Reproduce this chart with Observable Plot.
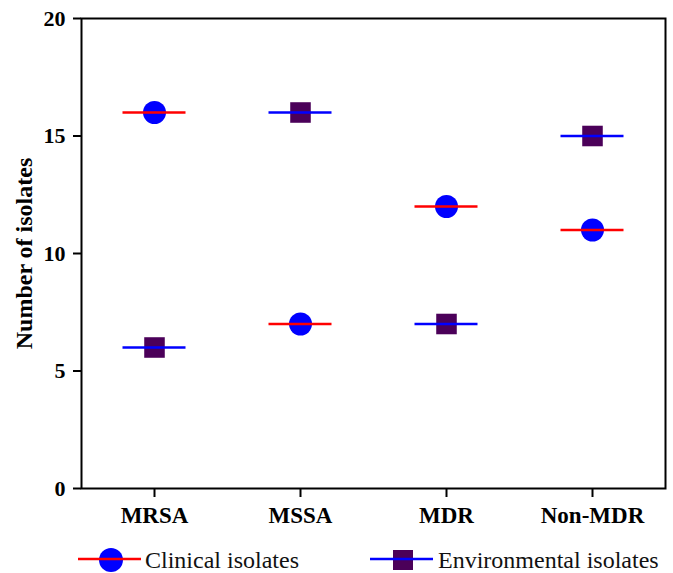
<!DOCTYPE html>
<html><head><meta charset="utf-8">
<script src="https://cdn.jsdelivr.net/npm/d3@7"></script>
<script src="https://cdn.jsdelivr.net/npm/@observablehq/plot@0.6"></script>
<style>
html,body{margin:0;padding:0;background:#fff;overflow:hidden;}
#chart svg{display:block}
#legend{display:block}
</style></head><body>
<div id="chart"></div>
<svg id="legend" width="673" height="37"></svg>
<script>
const categories = ["MRSA", "MSSA", "MDR", "Non-MDR"];
const clinical = [16, 7, 12, 11];
const environmental = [6, 16, 7, 15];
const yTicks = [0, 5, 10, 15, 20];
const seriesNames = ["Clinical isolates", "Environmental isolates"];
const yLabel = "Number of isolates";

const clin = categories.map((c, i) => ({category: c, value: clinical[i]}));
const env = categories.map((c, i) => ({category: c, value: environmental[i]}));

const serif = "'Liberation Serif', 'Times New Roman', serif";
const purple = "#4b0059";

const chart = Plot.plot({
  width: 673, height: 536,
  marginLeft: 81, marginRight: 8, marginTop: 18, marginBottom: 48,
  style: {fontFamily: serif, background: "#fff", color: "#000"},
  x: {domain: categories, padding: 0},
  y: {domain: [0, 20]},
  marks: [
    Plot.dot(clin, {x: "category", y: "value", r: 11.5, fill: "#0000ff", symbol: "circle"}),
    Plot.dot(env, {x: "category", y: "value", r: 11.6, fill: purple, symbol: "square"}),
    Plot.tickY(clin, {x: "category", y: "value", stroke: "#ff0000", strokeWidth: 2.3, inset: 41.5}),
    Plot.tickY(env, {x: "category", y: "value", stroke: "#0000ff", strokeWidth: 2.3, inset: 41.5}),
    Plot.axisY({ticks: yTicks, tickSize: 8, tickPadding: 8, fontSize: 22, fontWeight: "bold", strokeWidth: 2, label: null}),
    Plot.axisX({tickSize: 9, tickPadding: 9, fontSize: 23, fontWeight: "bold", strokeWidth: 2, label: null}),
    Plot.text([yLabel], {text: d => d, frameAnchor: "left", dx: -57, rotate: -90, textAnchor: "middle", lineAnchor: "middle", fontSize: 24, fontWeight: "bold", fill: "#000"}),
    Plot.frame({strokeWidth: 2, stroke: "#000"})
  ]
});
document.getElementById("chart").appendChild(chart);

// legend
const lg = d3.select("#legend").style("font-family", serif);
const items = [
  {name: seriesNames[0], x: 78, line: "#ff0000", fill: "#0000ff", shape: "circle", tx: 145},
  {name: seriesNames[1], x: 370, line: "#0000ff", fill: purple, shape: "square", tx: 438}
];
items.forEach(it => {
  const g = lg.append("g");
  if (it.shape === "circle") {
    g.append("circle").attr("cx", it.x + 33).attr("cy", 24).attr("r", 12).attr("fill", it.fill);
  } else {
    g.append("rect").attr("x", it.x + 23).attr("y", 14).attr("width", 20).attr("height", 20).attr("fill", it.fill);
  }
  g.append("line").attr("x1", it.x).attr("x2", it.x + 63).attr("y1", 23).attr("y2", 23)
    .attr("stroke", it.line).attr("stroke-width", 2.3);
  g.append("text").attr("x", it.tx).attr("y", 32).attr("font-size", 24).attr("fill", "#111").text(it.name);
});
</script>
</body></html>
